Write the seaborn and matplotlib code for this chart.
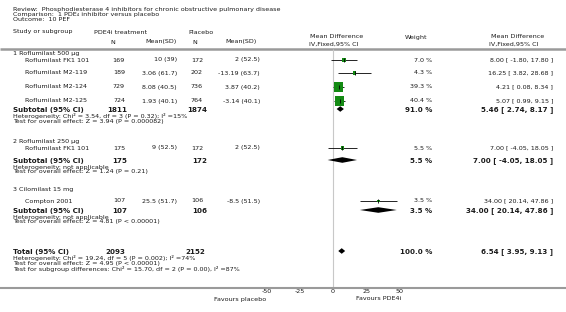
import matplotlib
matplotlib.use("Agg")
import matplotlib.pyplot as plt
import numpy as np
import pandas as pd
import seaborn as sns

# ---- data ----
review = "Review:  Phosphodiesterase 4 inhibitors for chronic obstructive pulmonary disease"
comparison = "Comparison:  1 PDE\u2084 inhibitor versus placebo"
outcome = "Outcome:  10 PEF"

subgroup_names = ["1 Roflumilast 500 \u00b5g", "2 Roflumilast 250 \u00b5g", "3 Cilomilast 15 mg"]

study_names = ["Roflumilast FK1 101", "Roflumilast M2-119", "Roflumilast M2-124",
               "Roflumilast M2-125", "Roflumilast FK1 101", "Compton 2001"]
study_group = [0, 0, 0, 0, 1, 2]
trt_n = [169, 189, 729, 724, 175, 107]
trt_mean = [10, 3.06, 8.08, 1.93, 9, 25.5]
trt_sd = [39, 61.7, 40.5, 40.1, 52.5, 51.7]
pl_n = [172, 202, 736, 764, 172, 106]
pl_mean = [2, -13.19, 3.87, -3.14, 2, -8.5]
pl_sd = [52.5, 63.7, 40.2, 40.1, 52.5, 51.5]
weight = [7.0, 4.3, 39.3, 40.4, 5.5, 3.5]
md = [8.00, 16.25, 4.21, 5.07, 7.00, 34.00]
md_lo = [-1.80, 3.82, 0.08, 0.99, -4.05, 20.14]
md_hi = [17.80, 28.68, 8.34, 9.15, 18.05, 47.86]

sub_trt_n = [1811, 175, 107]
sub_pl_n = [1874, 172, 106]
sub_weight = [91.0, 5.5, 3.5]
sub_md = [5.46, 7.00, 34.00]
sub_lo = [2.74, -4.05, 20.14]
sub_hi = [8.17, 18.05, 47.86]
sub_het = ["Heterogeneity: Chi\u00b2 = 3.54, df = 3 (P = 0.32); I\u00b2 =15%",
           "Heterogeneity: not applicable",
           "Heterogeneity: not applicable"]
sub_test = ["Test for overall effect: Z = 3.94 (P = 0.000082)",
            "Test for overall effect: Z = 1.24 (P = 0.21)",
            "Test for overall effect: Z = 4.81 (P < 0.00001)"]

tot_trt_n = 2093
tot_pl_n = 2152
tot_weight = 100.0
tot_md, tot_lo, tot_hi = 6.54, 3.95, 9.13
tot_notes = ["Heterogeneity: Chi\u00b2 = 19.24, df = 5 (P = 0.002); I\u00b2 =74%",
             "Test for overall effect: Z = 4.95 (P < 0.00001)",
             "Test for subgroup differences: Chi\u00b2 = 15.70, df = 2 (P = 0.00), I\u00b2 =87%"]

ticks = [-50, -25, 0, 25, 50]

# ---- layout (pixel rows) ----
W, H = 566, 312
study_y = [60, 73, 87, 101, 148, 201]
head_y = [54, 142, 190]
sub_y = [110, 161, 211]
tot_y = 252
axis_y = 288
zero_px = 333
px_per_unit = 33.3 / 25

sns.set_style("white")
plt.rcParams["font.family"] = ["DejaVu Sans"]
txt = "#1a1a1a"
fs = 4.6
fsb = 5.1

fig = plt.figure(figsize=(W / 100, H / 100), dpi=100)
ax = fig.add_axes([0, 0, 1, 1])
ax.set_xlim(0, W)
ax.set_ylim(H, 0)
ax.axis("off")


def t(x, y, s, ha="left", size=fs, bold=False, color=txt):
    ax.text(x, y, s, ha=ha, va="center", fontsize=size,
            fontweight="bold" if bold else "normal", color=color)


# header
t(13, 9, review)
t(13, 14.5, comparison)
t(13, 19.5, outcome)
t(13, 32, "Study or subgroup")
t(94, 32, "PDE4i treatment")
t(113, 42, "N", ha="center")
t(177, 42, "Mean(SD)", ha="right")
t(188, 32, "Placebo")
t(195, 42, "N", ha="center")
t(257, 42, "Mean(SD)", ha="right")
t(337, 37, "Mean Difference", ha="center")
t(334, 44, "IV,Fixed,95% CI", ha="center")
t(416, 37, "Weight", ha="center")
t(518, 37, "Mean Difference", ha="center")
t(514, 44, "IV,Fixed,95% CI", ha="center")
ax.plot([0, W], [49, 49], color="#9a9a9a", lw=1.8, solid_capstyle="butt")


def ci_text(m, lo, hi):
    return f"{m:.2f} [ {lo:.2f}, {hi:.2f} ]"


# study rows text
for i, name in enumerate(study_names):
    y = study_y[i]
    t(25, y, name)
    t(125, y, f"{trt_n[i]}", ha="right")
    t(177, y, f"{trt_mean[i]:g} ({trt_sd[i]:g})", ha="right")
    t(203, y, f"{pl_n[i]}", ha="right")
    t(260, y, f"{pl_mean[i]:g} ({pl_sd[i]:g})", ha="right")
    t(432, y, f"{weight[i]:.1f} %", ha="right")
    t(553, y, ci_text(md[i], md_lo[i], md_hi[i]), ha="right")

for g, name in enumerate(subgroup_names):
    t(13, head_y[g], name)
    y = sub_y[g]
    t(13, y, "Subtotal (95% CI)", size=fsb, bold=True)
    t(127, y, f"{sub_trt_n[g]}", ha="right", size=fsb, bold=True)
    t(207, y, f"{sub_pl_n[g]}", ha="right", size=fsb, bold=True)
    t(432, y, f"{sub_weight[g]:.1f} %", ha="right", size=fsb, bold=True)
    t(553, y, ci_text(sub_md[g], sub_lo[g], sub_hi[g]), ha="right", size=fsb, bold=True)
    t(13, y + 6, sub_het[g])
    t(13, y + 11, sub_test[g])

t(13, tot_y, "Total (95% CI)", size=fsb, bold=True)
t(125, tot_y, f"{tot_trt_n}", ha="right", size=fsb, bold=True)
t(205, tot_y, f"{tot_pl_n}", ha="right", size=fsb, bold=True)
t(432, tot_y, f"{tot_weight:.1f} %", ha="right", size=fsb, bold=True)
t(553, tot_y, ci_text(tot_md, tot_lo, tot_hi), ha="right", size=fsb, bold=True)
for k, note in enumerate(tot_notes):
    t(13, tot_y + 6 + 5.5 * k, note)

# ---- forest panel, effect scale in data units ----
fa = fig.add_axes([0, 1 - axis_y / H, 1, axis_y / H])
fa.set_facecolor("none")
fa.set_xlim(-zero_px / px_per_unit, (W - zero_px) / px_per_unit)
fa.set_ylim(axis_y, 0)
for side in ["top", "left", "right"]:
    fa.spines[side].set_visible(False)
fa.spines["bottom"].set_color("#9a9a9a")
fa.spines["bottom"].set_linewidth(1.5)
fa.set_yticks([])
fa.set_xticks(ticks)
fa.set_xticklabels([str(v) for v in ticks])
fa.tick_params(axis="x", direction="in", length=3, width=0.6, color="#555555",
               labelsize=fs, labelcolor=txt, pad=1)

fa.vlines(0, 49, axis_y, color="#c8c8c8", lw=0.8)

df = pd.DataFrame({"md": md, "lo": md_lo, "hi": md_hi, "w": weight, "y": study_y})
fa.hlines(df["y"], df["lo"], df["hi"], color="black", lw=0.6)
sns.scatterplot(data=df, x="md", y="y", size="w", size_norm=(0, max(weight)),
                sizes=(0, 44), marker="s", color="#138a13", edgecolor="none",
                legend=False, ax=fa, zorder=3)
fa.scatter(df["md"], df["y"], marker="|", s=6, color="black", lw=0.6, zorder=4)
fa.set_xlabel("")
fa.set_ylabel("")


def diamond(m, lo, hi, y, h=2.8):
    fa.fill([lo, m, hi, m], [y, y - h, y, y + h], color="black", lw=0, zorder=3)


for g in range(len(subgroup_names)):
    diamond(sub_md[g], sub_lo[g], sub_hi[g], sub_y[g] - 1)
diamond(tot_md, tot_lo, tot_hi, tot_y - 1)

fa.text(-50, 300, "Favours placebo", ha="right", va="center",
        fontsize=fs, color=txt, clip_on=False)
fa.text(17, 299, "Favours PDE4i", ha="left", va="center", fontsize=fs,
        color=txt, clip_on=False)

fig.savefig("out.png", dpi=100)
